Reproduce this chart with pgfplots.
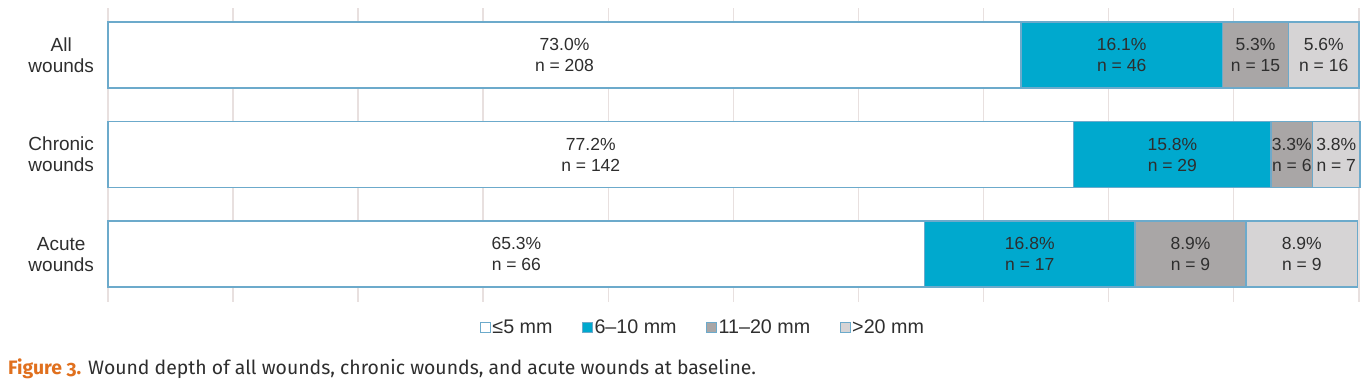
\documentclass[border=0pt]{standalone}
\usepackage{pgfplots}
\pgfplotsset{compat=1.18}
\usepackage{pgfplotstable}
\usepackage{fontspec}
\setmainfont{Liberation Sans}
\newfontfamily\capfont[Numbers=OldStyle]{Fira Sans}
\definecolor{cyanbar}{HTML}{00A9CE}
\definecolor{darkg}{HTML}{A9A6A6}
\definecolor{lightg}{HTML}{D6D4D5}
\definecolor{edgeb}{HTML}{6CAACB}
\definecolor{gridc}{HTML}{E8E0DF}
\definecolor{txt}{HTML}{2E2E2E}
\definecolor{figor}{HTML}{E0701E}

\pgfplotstableread{
y val n
2 73.0 208
1 77.2 142
0 65.3 66
}\tA
\pgfplotstableread{
y val n
2 16.1 46
1 15.8 29
0 16.8 17
}\tB
\pgfplotstableread{
y val n
2 5.3 15
1 3.3 6
0 8.9 9
}\tC
\pgfplotstableread{
y val n
2 5.6 16
1 3.8 7
0 8.9 9
}\tD

\begin{document}
\fontsize{17.5}{21}\selectfont
\begin{tikzpicture}[x=1pt,y=1pt]
\begin{axis}[
  at={(108pt,83pt)}, anchor=south west,
  scale only axis, width=1252pt, height=294pt,
  xbar stacked, bar width=66pt,
  xmin=0, xmax=100.1, ymin=-0.48, ymax=2.47,
  clip=false,
  /pgf/number format/assume math mode=true,
  xtick={0,10,...,100}, xticklabels={},
  xmajorgrids, grid style={gridc, line width=1.5pt},
  axis line style={draw=none},
  major tick length=0pt,
  ytick={0,1,2},
  yticklabels={{Acute\\wounds},{Chronic\\wounds},{All\\wounds}},
  yticklabel style={align=center, font=\fontsize{19}{21}\selectfont, text=txt, xshift=-8pt},
  point meta=explicit,
  visualization depends on={\thisrow{n} \as \nval},
  nodes near coords={\pgfmathprintnumber[fixed,fixed zerofill,precision=1]{\pgfplotspointmeta}\%\\n = \pgfmathprintnumber[fixed,precision=0]{\nval}},
  every node near coord/.append style={anchor=center, align=center, text=txt,
     font=\fontsize{17.5}{21}\selectfont},
  legend columns=4,
  legend image code/.code={\draw[#1, line width=1pt] (0pt,-5pt) rectangle (10pt,5pt);},
  legend style={draw=none, fill=none, at={(axis description cs:0.475,-0.088)}, anchor=center,
     font=\fontsize{19.7}{22}\selectfont, text=txt,
     nodes={inner xsep=1.5pt, inner ysep=1pt},
     /tikz/every even column/.append style={column sep=28pt}},
]
\addplot[fill=white, draw=edgeb, line width=1.5pt] table[x=val, y=y, meta=val] {\tA};
\addlegendentry{≤5 mm}
\addplot[fill=cyanbar, draw=edgeb, line width=1.5pt] table[x=val, y=y, meta=val] {\tB};
\addlegendentry{6–10 mm}
\addplot[fill=darkg, draw=edgeb, line width=1.5pt] table[x=val, y=y, meta=val] {\tC};
\addlegendentry{11–20 mm}
\addplot[fill=lightg, draw=edgeb, line width=1.5pt] table[x=val, y=y, meta=val] {\tD};
\addlegendentry{>20 mm}
\end{axis}
\node[anchor=base west, inner sep=0pt, text=txt] at (8,10)
  {\capfont\fontsize{19.4}{22}\selectfont{\bfseries\color{figor}Figure 3.} Wound depth of all wounds, chronic wounds, and acute wounds at baseline.};
\pgfresetboundingbox
\path (0,0) rectangle (1370,385);
\end{tikzpicture}
\end{document}
